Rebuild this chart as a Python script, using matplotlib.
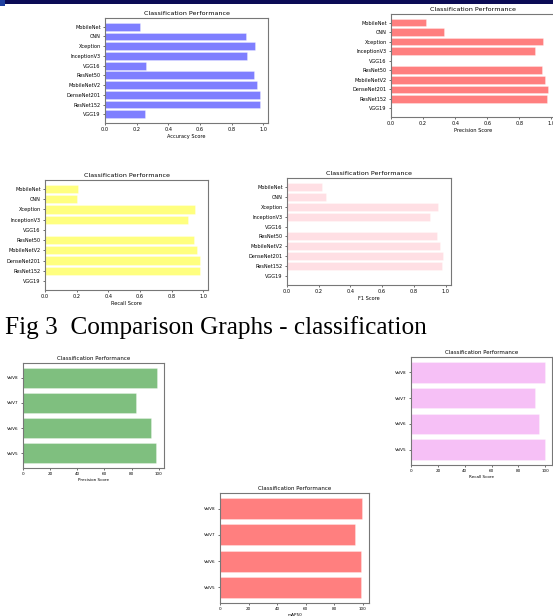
import matplotlib
matplotlib.use('Agg')
import matplotlib.pyplot as plt
from matplotlib.patches import Rectangle

# ---- data ---------------------------------------------------------------
models = ["VGG19", "ResNet152", "DenseNet201", "MobileNetV2", "ResNet50",
          "VGG16", "InceptionV3", "Xception", "CNN", "MobileNet"]
accuracy = [0.255, 0.98, 0.98, 0.96, 0.94, 0.26, 0.895, 0.95, 0.89, 0.22]
precision = [0.0, 0.975, 0.98, 0.96, 0.94, 0.0, 0.90, 0.95, 0.33, 0.22]
recall = [0.0, 0.98, 0.98, 0.96, 0.94, 0.0, 0.90, 0.95, 0.20, 0.21]
f1 = [0.0, 0.98, 0.985, 0.965, 0.945, 0.0, 0.90, 0.955, 0.245, 0.22]

val_sets = ["ValV5", "ValV6", "ValV7", "ValV8"]
val_precision = [98, 94, 83, 99]
val_recall = [99.5, 95, 92, 100]
val_map = [99, 99, 95, 99.5]

caption = "Fig 3  Comparison Graphs - classification"

# ---- figure -------------------------------------------------------------
W, H = 553, 616
fig = plt.figure(figsize=(W / 100, H / 100), dpi=100)
fig.patch.set_facecolor('white')


def px_axes(x0, y0, x1, y1):
    # pixel box (top-left origin) -> figure axes
    return fig.add_axes([x0 / W, 1 - y1 / H, (x1 - x0) / W, (y1 - y0) / H])


def bar_panel(box, cats, vals, color, xlabel, ticks, fs=3.6, tfs=4.6):
    ax = px_axes(*box)
    ax.barh(cats, vals, color=color, alpha=0.5, height=0.8,
            edgecolor='white', linewidth=0.4)
    ax.set_title("Classification Performance", fontsize=tfs, pad=2)
    ax.set_xlabel(xlabel, fontsize=fs, labelpad=1.5)
    ax.set_xticks(ticks)
    ax.tick_params(labelsize=fs, length=1.5, width=0.4, pad=1.5)
    for s in ax.spines.values():
        s.set_color('#777777')
        s.set_linewidth(0.8)
    return ax


# top row, model comparison
ticks01 = [0, 0.2, 0.4, 0.6, 0.8, 1.0]
labels01 = ["0.0", "0.2", "0.4", "0.6", "0.8", "1.0"]
ax1 = bar_panel((105, 18, 268, 123), models, accuracy, 'blue',
                "Accuracy Score", ticks01)
ax1.set_xticklabels(labels01)
ax2 = bar_panel((391, 14, 556, 117), models, precision, 'red',
                "Precision Score", ticks01)
ax2.set_xticklabels(labels01)
ax3 = bar_panel((45, 180, 208, 290), models, recall, 'yellow',
                "Recall Score", ticks01)
ax3.set_xticklabels(labels01)
ax4 = bar_panel((287, 178, 451, 285), models, f1, 'pink',
                "F1 Score", ticks01)
ax4.set_xticklabels(labels01)

# caption
fig.text(5 / W, 1 - 328 / H, caption, fontsize=18.2, family='Liberation Serif',
         va='center', ha='left', color='black')

# bottom row, validation sets
ticks100 = [0, 20, 40, 60, 80, 100]
ax5 = bar_panel((23, 363, 164, 468), val_sets, val_precision, 'green',
                "Precision Score", ticks100, fs=3.0, tfs=4.0)
ax6 = bar_panel((411, 357, 552, 465), val_sets, val_recall, 'violet',
                "Recall Score", ticks100, fs=3.0, tfs=4.0)
ax7 = bar_panel((220, 493, 369, 603), val_sets, val_map, 'red',
                "mAP50", ticks100, fs=3.0, tfs=4.0)

# dark band at the very top of the page
fig.add_artist(Rectangle((0, 1 - 3.5 / H), 1, 3.5 / H, transform=fig.transFigure,
                         facecolor='#0b0b55', edgecolor='none'))
fig.add_artist(Rectangle((0, 1 - 6 / H), 5 / W, 6 / H, transform=fig.transFigure,
                         facecolor='#2040a0', edgecolor='none'))

fig.savefig('out.png', dpi=100)
